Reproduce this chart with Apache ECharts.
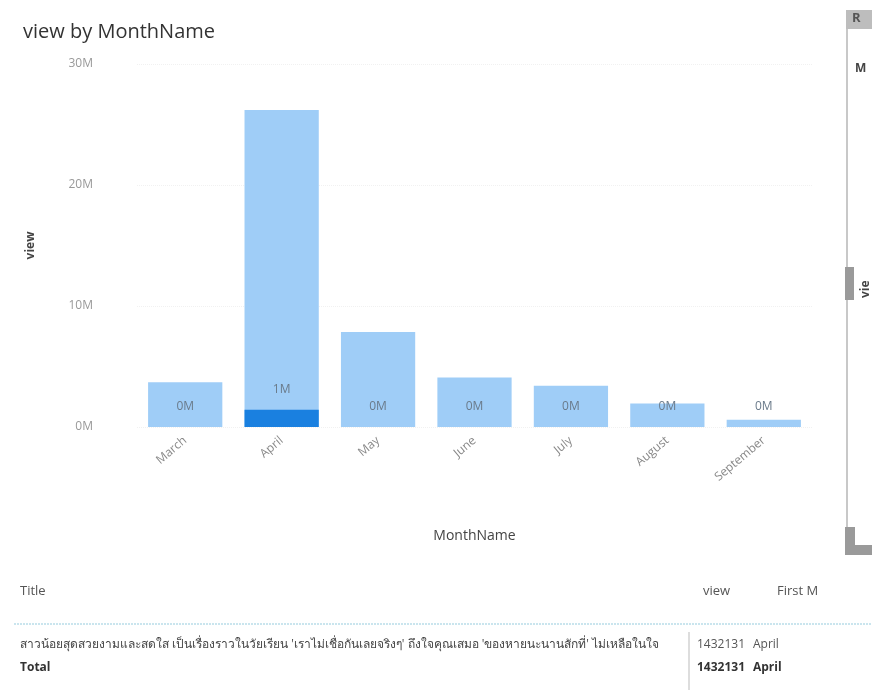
<!DOCTYPE html>
<html>
<head>
<meta charset="utf-8">
<script src="https://cdn.jsdelivr.net/npm/echarts@6/dist/echarts.min.js"></script>
<style>
  html, body { margin: 0; padding: 0; background: #fff; }
  #chart { width: 872px; height: 690px; }
</style>
</head>
<body>
<div id="chart"></div>
<script>
// Monthly view totals and the part belonging to the selected title
const months = ['March', 'April', 'May', 'June', 'July', 'August', 'September'];
const totalViews = [3700000, 26200000, 7850000, 4100000, 3400000, 1950000, 600000];
const selectedViews = [0, 1432131, 0, 0, 0, 0, 0];
const yTicks = [0, 10000000, 20000000, 30000000];

// Table under the chart
const tableHeader = ['Title', 'view', 'First M'];
const tableRowTitle = "สาวน้อยสุดสวยงามและสดใส เป็นเรื่องราวในวัยเรียน 'เราไม่เชื่อกันเลยจริงๆ' ถึงใจคุณเสมอ 'ของหายนะนานสักที่' ไม่เหลือในใจ";
const tableRowView = 1432131;
const tableRowMonth = 'April';
const totalLabel = 'Total';

const FONT = '"Open Sans", "Noto Sans", sans-serif';
const fmtM = v => Math.round(v / 1e6) + 'M';

const chart = echarts.init(document.getElementById('chart'), null, { renderer: 'canvas' });

const graphics = [
  // table header
  { type: 'text', left: 20, top: 585, style: { text: tableHeader[0], fill: '#555', font: '13px ' + FONT } },
  { type: 'text', left: 703, top: 585, style: { text: tableHeader[1], fill: '#555', font: '13px ' + FONT } },
  { type: 'text', left: 777, top: 585, style: { text: tableHeader[2], fill: '#555', font: '13px ' + FONT } },
  { type: 'line', shape: { x1: 14, y1: 624, x2: 872, y2: 624 }, style: { stroke: '#b9dde9', lineWidth: 1.5, lineDash: [2, 1] } },
  // data row
  { type: 'text', left: 20, top: 639, style: { text: tableRowTitle, fill: '#444', font: '12px ' + FONT } },
  { type: 'line', shape: { x1: 689, y1: 632, x2: 689, y2: 690 }, style: { stroke: '#bbb', lineWidth: 1 } },
  { type: 'text', left: 697, top: 639, style: { text: String(tableRowView), fill: '#555', font: '12px ' + FONT } },
  { type: 'text', left: 753, top: 639, style: { text: tableRowMonth, fill: '#555', font: '12px ' + FONT } },
  // total row
  { type: 'text', left: 20, top: 662, style: { text: totalLabel, fill: '#333', font: 'bold 12px ' + FONT } },
  { type: 'text', left: 697, top: 662, style: { text: String(tableRowView), fill: '#333', font: 'bold 12px ' + FONT } },
  { type: 'text', left: 753, top: 662, style: { text: tableRowMonth, fill: '#333', font: 'bold 12px ' + FONT } },
  // neighbouring visual at the right edge
  { type: 'line', shape: { x1: 847, y1: 16, x2: 847, y2: 552 }, style: { stroke: '#c8c8c8', lineWidth: 2 } },
  { type: 'rect', shape: { x: 846, y: 10, width: 26, height: 19 }, style: { fill: '#bdbdbd' } },
  { type: 'text', left: 852, top: 12, style: { text: 'R', fill: '#555', font: 'bold 13px ' + FONT } },
  { type: 'text', left: 855, top: 63, style: { text: 'M', fill: '#444', font: 'bold 12px ' + FONT } },
  { type: 'rect', shape: { x: 845, y: 267, width: 9, height: 33 }, style: { fill: '#9a9a9a' } },
  { type: 'text', x: 866, y: 298, rotation: Math.PI / 2, style: { text: 'vie', fill: '#444', font: 'bold 12px ' + FONT, align: 'left', verticalAlign: 'middle' } },
  { type: 'rect', shape: { x: 845, y: 527, width: 10, height: 28 }, style: { fill: '#9a9a9a' } },
  { type: 'rect', shape: { x: 845, y: 545, width: 27, height: 10 }, style: { fill: '#9a9a9a' } }
];

chart.setOption({
  animation: false,
  textStyle: { fontFamily: FONT },
  title: {
    text: 'view by MonthName',
    left: 18, top: 17,
    textStyle: { fontSize: 20, fontWeight: 'normal', color: '#333', fontFamily: FONT }
  },
  grid: { left: 137, right: 60, top: 64, bottom: 263, containLabel: false },
  xAxis: {
    type: 'category',
    data: months,
    name: 'MonthName',
    nameLocation: 'middle',
    nameGap: 102,
    nameTextStyle: { fontSize: 14, color: '#444' },
    axisLine: { show: false },
    axisTick: { show: false },
    axisLabel: { rotate: 40, fontSize: 12, color: '#888', margin: 12 }
  },
  yAxis: {
    type: 'value',
    min: 0, max: yTicks[yTicks.length - 1], interval: yTicks[1] - yTicks[0],
    name: 'view',
    nameLocation: 'middle',
    nameGap: 100,
    nameRotate: 90,
    nameTextStyle: { fontSize: 12, color: '#444', fontWeight: 'bold' },
    axisLine: { show: false },
    axisTick: { show: false },
    axisLabel: { fontSize: 12, color: '#999', margin: 44, formatter: fmtM },
    splitLine: { lineStyle: { color: '#f1f1f1', type: 'dotted' } }
  },
  series: [
    {
      name: 'view',
      type: 'bar',
      data: totalViews,
      barCategoryGap: '23%',
      itemStyle: { color: '#9fcdf7' },
      silent: true
    },
    {
      name: 'selected',
      type: 'bar',
      data: selectedViews,
      barGap: '-100%',
      barCategoryGap: '23%',
      itemStyle: { color: '#1a80e0' },
      label: {
        show: true,
        position: 'top',
        distance: 14,
        fontSize: 12,
        color: '#6a7a8a',
        formatter: p => fmtM(p.value)
      }
    }
  ],
  graphic: graphics
});
</script>
</body>
</html>
